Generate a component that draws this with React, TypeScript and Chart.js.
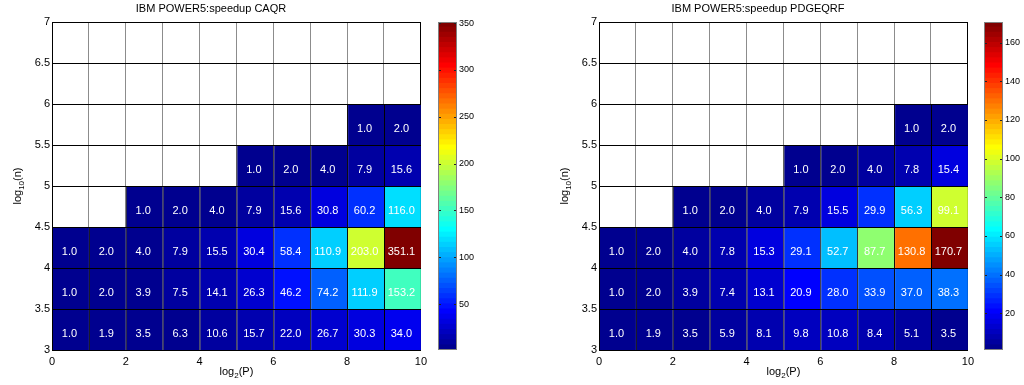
import React, { useEffect, useRef } from "react";
import { Chart, registerables } from "chart.js";

Chart.register(...registerables);

// ---- data ----
// column left edges (log2 P)
const log2P = [0, 1, 2, 3, 4, 5, 6, 7, 8, 9];
// row bottom edges (log10 n)
const log10n = [3, 3.5, 4, 4.5, 5, 5.5, 6, 6.5];

// rows from bottom (log10 n = 3..3.5) to top
const caqrSpeedup: (number | null)[][] = [
  [1.0, 1.9, 3.5, 6.3, 10.6, 15.7, 22.0, 26.7, 30.3, 34.0],
  [1.0, 2.0, 3.9, 7.5, 14.1, 26.3, 46.2, 74.2, 111.9, 153.2],
  [1.0, 2.0, 4.0, 7.9, 15.5, 30.4, 58.4, 110.9, 203.0, 351.1],
  [null, null, 1.0, 2.0, 4.0, 7.9, 15.6, 30.8, 60.2, 116.0],
  [null, null, null, null, null, 1.0, 2.0, 4.0, 7.9, 15.6],
  [null, null, null, null, null, null, null, null, 1.0, 2.0],
  [null, null, null, null, null, null, null, null, null, null],
  [null, null, null, null, null, null, null, null, null, null],
];

const pdgeqrfSpeedup: (number | null)[][] = [
  [1.0, 1.9, 3.5, 5.9, 8.1, 9.8, 10.8, 8.4, 5.1, 3.5],
  [1.0, 2.0, 3.9, 7.4, 13.1, 20.9, 28.0, 33.9, 37.0, 38.3],
  [1.0, 2.0, 4.0, 7.8, 15.3, 29.1, 52.7, 87.7, 130.8, 170.7],
  [null, null, 1.0, 2.0, 4.0, 7.9, 15.5, 29.9, 56.3, 99.1],
  [null, null, null, null, null, 1.0, 2.0, 4.0, 7.8, 15.4],
  [null, null, null, null, null, null, null, null, 1.0, 2.0],
  [null, null, null, null, null, null, null, null, null, null],
  [null, null, null, null, null, null, null, null, null, null],
];

const xLabelTicks = [0, 2, 4, 6, 8, 10];
const yTickLabels = ["3", "3.5", "4", "4.5", "5", "5.5", "6", "6.5", "7"];
const caqrColorbarTicks = [50, 100, 150, 200, 250, 300, 350];
const pdgeqrfColorbarTicks = [20, 40, 60, 80, 100, 120, 140, 160];

const FONT = "'Liberation Sans', Arial, Helvetica, sans-serif";

// ---- MATLAB jet(64) ----
function buildJet(m: number): number[][] {
  const n = 16;
  const u: number[] = [];
  for (let k = 1; k <= n; k++) u.push(k / n);
  for (let k = 0; k < n - 1; k++) u.push(1);
  for (let k = n; k >= 1; k--) u.push(k / n);
  const out: number[][] = [];
  const at = (k: number) => (k >= 1 && k <= u.length ? u[k - 1] : 0);
  for (let i = 1; i <= m; i++) {
    out.push([at(i - 24), at(i - 8), at(i + 8)]);
  }
  return out;
}
const JET = buildJet(64);
const jetCss = (idx: number) => {
  const c = JET[Math.max(0, Math.min(63, idx))];
  return `rgb(${Math.round(c[0] * 255)},${Math.round(c[1] * 255)},${Math.round(c[2] * 255)})`;
};
function colorFor(v: number, cmin: number, cmax: number) {
  const idx = Math.floor(((v - cmin) / (cmax - cmin)) * 64);
  return jetCss(idx);
}
function range(data: (number | null)[][]) {
  const vals = data.flat().filter((v) => v !== null) as number[];
  return [Math.min(...vals), Math.max(...vals)];
}

function drawSubText(
  ctx: CanvasRenderingContext2D,
  parts: { t: string; sub?: boolean }[],
  cx: number,
  cy: number,
  rotate: boolean
) {
  ctx.save();
  ctx.translate(cx, cy);
  if (rotate) ctx.rotate(-Math.PI / 2);
  const big = `11px ${FONT}`;
  const small = `8px ${FONT}`;
  let total = 0;
  const widths = parts.map((p) => {
    ctx.font = p.sub ? small : big;
    const w = ctx.measureText(p.t).width;
    total += w;
    return w;
  });
  let x = -total / 2;
  ctx.fillStyle = "#000";
  ctx.textBaseline = "middle";
  ctx.textAlign = "left";
  parts.forEach((p, i) => {
    ctx.font = p.sub ? small : big;
    ctx.fillText(p.t, x, p.sub ? 4 : 0);
    x += widths[i];
  });
  ctx.restore();
}

function Heatmap({ left, title, data }: { left: number; title: string; data: (number | null)[][] }) {
  const ref = useRef<HTMLCanvasElement>(null);
  useEffect(() => {
    const [cmin, cmax] = range(data);
    const datasets = data.map((row, r) => ({
      data: row
        .map((v, c) => (v === null ? null : { x: log2P[c] + 0.5, y: [log10n[r], log10n[r] + 0.5], v }))
        .filter((d) => d !== null),
      backgroundColor: (ctx: any) => (ctx.raw ? colorFor(ctx.raw.v, cmin, cmax) : "transparent"),
      borderColor: "#000",
      borderWidth: { top: 1, left: 1, right: 0, bottom: 0 },
      borderSkipped: false,
      inflateAmount: 0,
      grouped: false,
      categoryPercentage: 1,
      barPercentage: 1,
    }));

    const cellText = {
      id: "cellText",
      afterDatasetsDraw(chart: any) {
        const { ctx } = chart;
        const xs = chart.scales.x;
        const ys = chart.scales.y;
        ctx.save();
        ctx.fillStyle = "#fff";
        ctx.font = `11px ${FONT}`;
        ctx.textAlign = "center";
        ctx.textBaseline = "middle";
        chart.data.datasets.forEach((ds: any) => {
          ds.data.forEach((d: any) => {
            const px = xs.getPixelForValue(d.x) - 1;
            const py = ys.getPixelForValue((d.y[0] + d.y[1]) / 2) + 4.5;
            ctx.fillText(d.v.toFixed(1), px, py);
          });
        });
        ctx.restore();
      },
    };
    const axisTitles = {
      id: "axisTitles",
      afterDraw(chart: any) {
        const { ctx, chartArea } = chart;
        drawSubText(ctx, [{ t: "log" }, { t: "2", sub: true }, { t: "(P)" }], (chartArea.left + chartArea.right) / 2, 372, false);
        drawSubText(ctx, [{ t: "log" }, { t: "10", sub: true }, { t: "(n)" }], 18, (chartArea.top + chartArea.bottom) / 2, true);
      },
    };

    const chart = new Chart(ref.current!, {
      type: "bar",
      data: { datasets: datasets as any },
      options: {
        responsive: false,
        animation: false,
        layout: { padding: { left: 0, right: 10, top: 0, bottom: 0 } },
        plugins: {
          legend: { display: false },
          tooltip: { enabled: false },
          title: {
            display: true,
            text: title,
            color: "#000",
            font: { size: 11, weight: "normal", family: FONT },
            padding: { top: 2, bottom: 6.8 },
          },
        },
        scales: {
          x: {
            type: "linear",
            min: 0,
            max: 10,
            offset: false,
            afterFit: (s: any) => {
              s.height = 35;
            },
            grid: {
              offset: false,
              drawTicks: false,
              lineWidth: 1,
              color: (c: any) => (c.tick && (c.tick.value === 0 || c.tick.value === 10) ? "#000" : "#8c8c8c"),
            },
            border: { display: true, color: "#000", width: 1 },
            ticks: {
              stepSize: 1,
              autoSkip: false,
              maxRotation: 0,
              padding: 5,
              color: "#000",
              font: { size: 11, family: FONT },
              callback: (v: any) => (xLabelTicks.includes(Number(v)) ? String(v) : ""),
            },
          },
          y: {
            type: "linear",
            min: 3,
            max: 7,
            beginAtZero: false,
            afterFit: (s: any) => {
              s.width = 52;
            },
            grid: { drawTicks: false, color: "#000", lineWidth: 1 },
            border: { display: true, color: "#000", width: 1 },
            ticks: {
              stepSize: 0.5,
              padding: 2,
              color: "#000",
              font: { size: 11, family: FONT },
              callback: (v: any, i: number) => yTickLabels[i] ?? String(Number(v)),
            },
          },
        },
      } as any,
      plugins: [cellText, axisTitles],
    });
    return () => chart.destroy();
  }, []);
  return (
    <canvas
      ref={ref}
      width={432}
      height={385}
      style={{ position: "absolute", left, top: 0, width: 432, height: 385 }}
    />
  );
}

function Colorbar({
  left,
  width,
  axisWidth,
  data,
  ticks,
}: {
  left: number;
  width: number;
  axisWidth: number;
  data: (number | null)[][];
  ticks: number[];
}) {
  const ref = useRef<HTMLCanvasElement>(null);
  useEffect(() => {
    const [cmin, cmax] = range(data);
    const step = (cmax - cmin) / 64;
    const datasets = JET.map((_, j) => ({
      data: [[cmin + j * step, cmin + (j + 1) * step]],
      backgroundColor: jetCss(j),
      borderWidth: 0,
      inflateAmount: 0.5,
      grouped: false,
      categoryPercentage: 1,
      barPercentage: 1,
    }));
    const frame = {
      id: "cbFrame",
      afterDatasetsDraw(chart: any) {
        const { ctx, chartArea } = chart;
        const ys = chart.scales.y;
        ctx.save();
        ctx.strokeStyle = "#222";
        ctx.lineWidth = 1;
        ticks.forEach((t) => {
          const y = Math.round(ys.getPixelForValue(t)) + 0.5;
          ctx.beginPath();
          ctx.moveTo(chartArea.left, y);
          ctx.lineTo(chartArea.left + 3, y);
          ctx.moveTo(chartArea.right - 3, y);
          ctx.lineTo(chartArea.right, y);
          ctx.stroke();
        });
        ctx.strokeStyle = "#808080";
        ctx.strokeRect(chartArea.left + 0.5, chartArea.top + 0.5, chartArea.right - chartArea.left - 1, chartArea.bottom - chartArea.top - 1);
        ctx.restore();
      },
    };
    const chart = new Chart(ref.current!, {
      type: "bar",
      data: { labels: [""], datasets: datasets as any },
      options: {
        responsive: false,
        animation: false,
        layout: { padding: { left: 8, right: 0, top: 22, bottom: 35 } },
        plugins: { legend: { display: false }, tooltip: { enabled: false }, title: { display: false } },
        scales: {
          x: { type: "category", display: false, offset: true },
          y: {
            type: "linear",
            position: "right",
            min: cmin,
            max: cmax,
            afterFit: (s: any) => {
              s.width = axisWidth;
            },
            afterBuildTicks: (s: any) => {
              s.ticks = ticks.map((v) => ({ value: v }));
            },
            grid: { display: false, drawTicks: false },
            border: { display: false },
            ticks: {
              padding: 2,
              color: "#000",
              font: { size: 9, family: FONT },
              callback: (v: any) => String(v),
            },
          },
        },
      } as any,
      plugins: [frame],
    });
    return () => chart.destroy();
  }, []);
  return (
    <canvas
      ref={ref}
      width={width}
      height={385}
      style={{ position: "absolute", left, top: 0, width, height: 385 }}
    />
  );
}

export default function App() {
  return (
    <div
      style={{
        position: "absolute",
        left: 0,
        top: 0,
        width: 1024,
        height: 385,
        background: "#fff",
        overflow: "hidden",
      }}
    >
      <Heatmap left={0} title="IBM POWER5:speedup CAQR" data={caqrSpeedup} />
      <Colorbar left={430} width={60} axisWidth={33} data={caqrSpeedup} ticks={caqrColorbarTicks} />
      <Heatmap left={547} title="IBM POWER5:speedup PDGEQRF" data={pdgeqrfSpeedup} />
      <Colorbar left={976} width={48} axisWidth={21} data={pdgeqrfSpeedup} ticks={pdgeqrfColorbarTicks} />
    </div>
  );
}
